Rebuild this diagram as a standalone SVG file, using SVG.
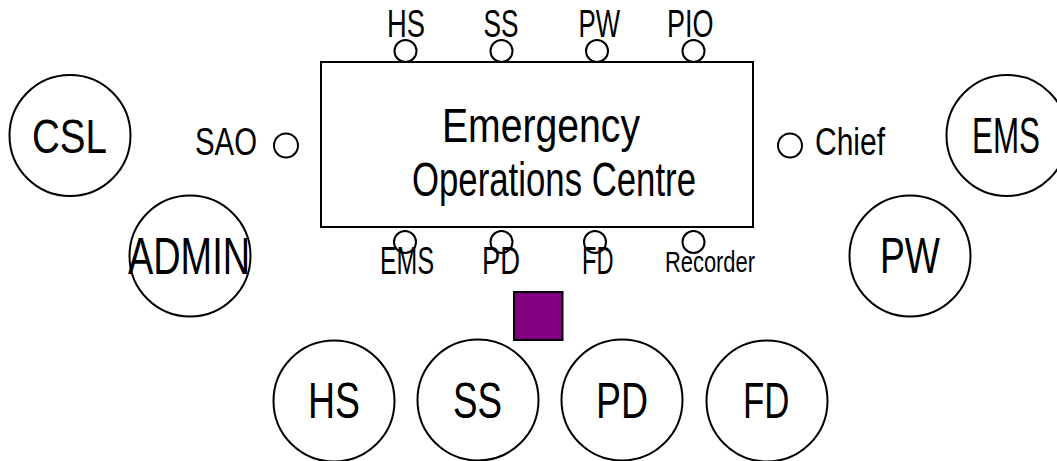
<svg xmlns="http://www.w3.org/2000/svg" width="1057" height="461" viewBox="0 0 1057 461">
<style>
text{font-family:"Liberation Sans",Arial,sans-serif;fill:#000;}
.big{fill:none;stroke:#000;stroke-width:2;}
.small{fill:none;stroke:#000;stroke-width:2;}
.eoc{fill:#fff;stroke:#000;stroke-width:2;}
</style>
<rect width="1057" height="461" fill="#fff"/>
<g id="connectors"></g>
<g id="eoc">
<rect class="eoc" x="321" y="62" width="432" height="165"/>
<text x="442" y="141.5" font-size="48.5" textLength="198" lengthAdjust="spacingAndGlyphs">Emergency</text>
<text x="412" y="195.5" font-size="48" textLength="284" lengthAdjust="spacingAndGlyphs">Operations Centre</text>
</g>
<g id="seat-hs-top">
<circle class="small" cx="405.5" cy="51" r="11"/>
<text x="387" y="37" font-size="39.5" textLength="38" lengthAdjust="spacingAndGlyphs">HS</text>
</g>
<g id="seat-ss-top">
<circle class="small" cx="501.5" cy="51" r="11"/>
<text x="483.5" y="37" font-size="39.5" textLength="35" lengthAdjust="spacingAndGlyphs">SS</text>
</g>
<g id="seat-pw-top">
<circle class="small" cx="597" cy="51" r="11"/>
<text x="578.5" y="37" font-size="39.5" textLength="41.5" lengthAdjust="spacingAndGlyphs">PW</text>
</g>
<g id="seat-pio-top">
<circle class="small" cx="693.5" cy="51" r="11"/>
<text x="667" y="37" font-size="39.5" textLength="46.5" lengthAdjust="spacingAndGlyphs">PIO</text>
</g>
<g id="seat-sao">
<circle class="small" cx="286" cy="145.5" r="12"/>
<text x="195" y="155" font-size="38" textLength="62" lengthAdjust="spacingAndGlyphs">SAO</text>
</g>
<g id="seat-chief">
<circle class="small" cx="790" cy="145.5" r="12"/>
<text x="815" y="155" font-size="38" textLength="70" lengthAdjust="spacingAndGlyphs">Chief</text>
</g>
<g id="seat-ems-bottom">
<text x="380" y="274" font-size="38.5" textLength="54" lengthAdjust="spacingAndGlyphs">EMS</text>
<circle class="small" cx="405" cy="242" r="11"/>
</g>
<g id="seat-pd-bottom">
<text x="482" y="274" font-size="38.5" textLength="38" lengthAdjust="spacingAndGlyphs">PD</text>
<circle class="small" cx="501.5" cy="242" r="11"/>
</g>
<g id="seat-fd-bottom">
<text x="582" y="274" font-size="38.5" textLength="31.5" lengthAdjust="spacingAndGlyphs">FD</text>
<circle class="small" cx="595" cy="242" r="11"/>
</g>
<g id="seat-recorder">
<text x="665" y="272" font-size="29" textLength="90" lengthAdjust="spacingAndGlyphs">Recorder</text>
<circle class="small" cx="693.5" cy="242" r="11"/>
</g>
<g id="marker-square">
<rect x="514" y="292" width="48.5" height="48" fill="#800080" stroke="#000" stroke-width="2"/>
</g>
<g id="node-csl">
<circle class="big" cx="70" cy="135.5" r="60.5"/>
<text x="32" y="153" font-size="48" textLength="75" lengthAdjust="spacingAndGlyphs">CSL</text>
</g>
<g id="node-admin">
<circle class="big" cx="190" cy="256" r="60.5"/>
<text x="128" y="274" font-size="51" textLength="122" lengthAdjust="spacingAndGlyphs">ADMIN</text>
</g>
<g id="node-ems">
<circle class="big" cx="1007" cy="135.5" r="60.5"/>
<text x="972" y="153" font-size="49.5" textLength="68" lengthAdjust="spacingAndGlyphs">EMS</text>
</g>
<g id="node-pw">
<circle class="big" cx="910" cy="256" r="60.5"/>
<text x="880" y="273" font-size="49.5" textLength="60" lengthAdjust="spacingAndGlyphs">PW</text>
</g>
<g id="node-hs">
<circle class="big" cx="334" cy="401" r="60.5"/>
<text x="308" y="417.5" font-size="50" textLength="52" lengthAdjust="spacingAndGlyphs">HS</text>
</g>
<g id="node-ss">
<circle class="big" cx="478" cy="400" r="60.5"/>
<text x="453" y="417.5" font-size="50" textLength="49" lengthAdjust="spacingAndGlyphs">SS</text>
</g>
<g id="node-pd">
<circle class="big" cx="622" cy="400" r="60.5"/>
<text x="596" y="417.5" font-size="50" textLength="52" lengthAdjust="spacingAndGlyphs">PD</text>
</g>
<g id="node-fd">
<circle class="big" cx="767" cy="401" r="60.5"/>
<text x="743" y="417.5" font-size="50" textLength="46.5" lengthAdjust="spacingAndGlyphs">FD</text>
</g>
</svg>
